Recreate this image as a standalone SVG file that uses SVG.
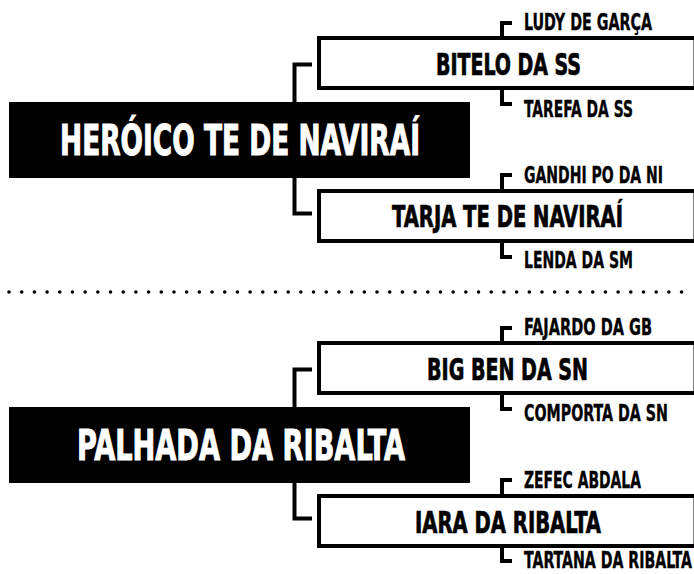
<svg xmlns="http://www.w3.org/2000/svg" width="694" height="574" viewBox="0 0 694 574">
<style>
.main{fill:#000}
.mt{fill:#fff;stroke:#fff;stroke-width:0.7;font-family:"DejaVu Sans Condensed","DejaVu Sans","Liberation Sans",sans-serif;font-stretch:condensed;font-weight:bold;font-size:29px;text-anchor:middle}
.box{fill:#fff;stroke:#000;stroke-width:4}
.bt{fill:#000;stroke:#000;stroke-width:0.5;font-family:"DejaVu Sans Condensed","DejaVu Sans","Liberation Sans",sans-serif;font-stretch:condensed;font-weight:bold;font-size:20.5px;text-anchor:middle}
.st{fill:#000;stroke:#000;stroke-width:0.25;font-family:"DejaVu Sans Condensed","DejaVu Sans","Liberation Sans",sans-serif;font-stretch:condensed;font-weight:bold;font-size:15.5px}
.con{fill:none;stroke:#000;stroke-width:4;stroke-linejoin:miter;stroke-linecap:butt}
.dots{stroke:#000;stroke-width:3.6;stroke-linecap:round;stroke-dasharray:0 12.69}
</style>
<g id="connectors">
<path class="con" d="M312,64.5 H294.5 V102"/>
<path class="con" d="M294.5,178 V213.5 H312"/>
<path class="con" d="M502,38 V23 H512"/>
<path class="con" d="M502,88 V104 H512"/>
<path class="con" d="M502,191 V175 H512"/>
<path class="con" d="M502,241 V257 H512"/>
<path class="con" d="M312,369.5 H294.5 V407"/>
<path class="con" d="M294.5,483 V518.5 H312"/>
<path class="con" d="M502,343 V328 H512"/>
<path class="con" d="M502,393 V409 H512"/>
<path class="con" d="M502,496 V480 H512"/>
<path class="con" d="M502,546 V561 H512"/>
</g>
<line class="dots" x1="9" y1="292" x2="694" y2="292"/>
<g id="heroico">
<rect class="main" x="9" y="102" width="461" height="76"/>
<g transform="translate(240,155) scale(1,1.45)"><text class="mt" x="0" y="0" textLength="360" lengthAdjust="spacingAndGlyphs">HERÓICO TE DE NAVIRAÍ</text></g>
</g>
<g id="bitelo">
<rect class="box" x="319" y="38" width="376.5" height="50"/>
<g transform="translate(508.5,75) scale(1,1.44)"><text class="bt" x="0" y="0" textLength="145" lengthAdjust="spacingAndGlyphs">BITELO DA SS</text></g>
</g>
<g id="tarja">
<rect class="box" x="319" y="191" width="376.5" height="50"/>
<g transform="translate(507.5,227) scale(1,1.44)"><text class="bt" x="0" y="0" textLength="231" lengthAdjust="spacingAndGlyphs">TARJA TE DE NAVIRAÍ</text></g>
</g>
<g id="ludy"><g transform="translate(524,30) scale(1,1.45)"><text class="st" x="0" y="0" textLength="128" lengthAdjust="spacingAndGlyphs">LUDY DE GARÇA</text></g></g>
<g id="tarefa"><g transform="translate(524,117) scale(1,1.45)"><text class="st" x="0" y="0" textLength="109" lengthAdjust="spacingAndGlyphs">TAREFA DA SS</text></g></g>
<g id="gandhi"><g transform="translate(524,183) scale(1,1.45)"><text class="st" x="0" y="0" textLength="139" lengthAdjust="spacingAndGlyphs">GANDHI PO DA NI</text></g></g>
<g id="lenda"><g transform="translate(524,268) scale(1,1.45)"><text class="st" x="0" y="0" textLength="109" lengthAdjust="spacingAndGlyphs">LENDA DA SM</text></g></g>
<g id="palhada">
<rect class="main" x="9" y="407" width="461" height="76"/>
<g transform="translate(241,460) scale(1,1.45)"><text class="mt" x="0" y="0" textLength="328" lengthAdjust="spacingAndGlyphs">PALHADA DA RIBALTA</text></g>
</g>
<g id="bigben">
<rect class="box" x="319" y="343" width="376.5" height="50"/>
<g transform="translate(507.5,380) scale(1,1.44)"><text class="bt" x="0" y="0" textLength="161" lengthAdjust="spacingAndGlyphs">BIG BEN DA SN</text></g>
</g>
<g id="iara">
<rect class="box" x="319" y="496" width="376.5" height="50"/>
<g transform="translate(508,533) scale(1,1.44)"><text class="bt" x="0" y="0" textLength="186" lengthAdjust="spacingAndGlyphs">IARA DA RIBALTA</text></g>
</g>
<g id="fajardo"><g transform="translate(524,335) scale(1,1.45)"><text class="st" x="0" y="0" textLength="128" lengthAdjust="spacingAndGlyphs">FAJARDO DA GB</text></g></g>
<g id="comporta"><g transform="translate(524,421) scale(1,1.45)"><text class="st" x="0" y="0" textLength="144" lengthAdjust="spacingAndGlyphs">COMPORTA DA SN</text></g></g>
<g id="zefec"><g transform="translate(524,488) scale(1,1.45)"><text class="st" x="0" y="0" textLength="117" lengthAdjust="spacingAndGlyphs">ZEFEC ABDALA</text></g></g>
<g id="tartana"><g transform="translate(524,568) scale(1,1.5)"><text class="st" x="0" y="0" style="font-size:15px" textLength="168" lengthAdjust="spacingAndGlyphs">TARTANA DA RIBALTA</text></g></g>
</svg>
